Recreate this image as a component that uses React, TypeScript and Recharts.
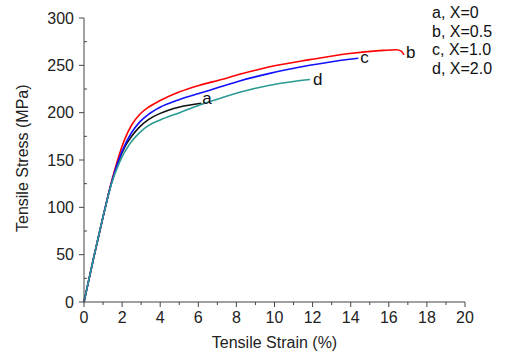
import React from "react";
import { LineChart, Line, XAxis, YAxis } from "recharts";

// strain (%) / stress (MPa)
const curveA = [
  { x: 0, y: 0 }, { x: 0.5, y: 46 }, { x: 1, y: 90 }, { x: 1.43, y: 125 }, { x: 1.8, y: 148 },
  { x: 2.2, y: 166 }, { x: 2.5, y: 175 }, { x: 2.92, y: 185 }, { x: 3.4, y: 193 }, { x: 3.97, y: 199 },
  { x: 5.02, y: 206 }, { x: 6.16, y: 210 },
];
const curveB = [
  { x: 0, y: 0 }, { x: 0.5, y: 46 }, { x: 1, y: 90 }, { x: 1.43, y: 126 }, { x: 1.75, y: 149 },
  { x: 2.14, y: 172 }, { x: 2.5, y: 187 }, { x: 2.92, y: 198 }, { x: 3.4, y: 206 }, { x: 3.97, y: 212.5 },
  { x: 5.02, y: 222 }, { x: 6.07, y: 229 }, { x: 7.12, y: 234.5 }, { x: 8.17, y: 240.5 },
  { x: 9.75, y: 248.5 }, { x: 11.85, y: 256 }, { x: 13.95, y: 262.5 }, { x: 15.5, y: 265.5 },
  { x: 16.4, y: 266.5 }, { x: 16.65, y: 265 }, { x: 16.8, y: 261 },
];
const curveC = [
  { x: 0, y: 0 }, { x: 0.5, y: 46 }, { x: 1, y: 90 }, { x: 1.43, y: 125 }, { x: 1.8, y: 149 },
  { x: 2.2, y: 168 }, { x: 2.5, y: 179 }, { x: 2.92, y: 190 }, { x: 3.4, y: 198.5 }, { x: 3.97, y: 205.5 },
  { x: 5.02, y: 214 }, { x: 6.07, y: 220.5 }, { x: 7.12, y: 227 }, { x: 8.17, y: 233.5 },
  { x: 9.75, y: 241.5 }, { x: 11.85, y: 250 }, { x: 13.95, y: 256.5 }, { x: 14.4, y: 257.5 },
];
const curveD = [
  { x: 0, y: 0 }, { x: 0.5, y: 46 }, { x: 1, y: 90 }, { x: 1.43, y: 124 }, { x: 1.85, y: 147 },
  { x: 2.4, y: 167 }, { x: 2.92, y: 179 }, { x: 3.4, y: 186.5 }, { x: 3.97, y: 192 }, { x: 5.02, y: 200 },
  { x: 6.07, y: 208 }, { x: 7.12, y: 215 }, { x: 8.17, y: 221.5 }, { x: 9.75, y: 229 },
  { x: 11.0, y: 233 }, { x: 11.86, y: 235 },
];

const seriesNames = ["a", "b", "c", "d"];
const legendLines = ["a, X=0", "b, X=0.5", "c, X=1.0", "d, X=2.0"];
const xTicks = Array.from({ length: 21 }, (_, i) => i);
const yTicks = [0, 25, 50, 75, 100, 125, 150, 175, 200, 225, 250, 275, 300];

const font = "Arial, 'Liberation Sans', sans-serif";
const axisColor = "#444";
const textColor = "#222";

const XTick = (props: any) => {
  const { x, y, payload } = props;
  const major = payload.value % 2 === 0;
  return (
    <g>
      <line x1={x} x2={x} y1={y} y2={y + (major ? 5 : 3)} stroke={axisColor} strokeWidth={1} />
      {major && (
        <text x={x} y={y + 21} textAnchor="middle" fontSize={16} fill={textColor} fontFamily={font}>
          {payload.value}
        </text>
      )}
    </g>
  );
};

const YTick = (props: any) => {
  const { x, y, payload } = props;
  const major = payload.value % 50 === 0;
  return (
    <g>
      {major ? (
        <line x1={x} x2={x - 5} y1={y} y2={y} stroke={axisColor} strokeWidth={1} />
      ) : (
        <line x1={x} x2={x + 3} y1={y} y2={y} stroke={axisColor} strokeWidth={1} />
      )}
      {major && (
        <text x={x - 10} y={y + 5.5} textAnchor="end" fontSize={16} fill={textColor} fontFamily={font}>
          {payload.value}
        </text>
      )}
    </g>
  );
};

const endLabel = (name: string, last: number, dx: number, dy: number) => (props: any) => {
  if (props.index !== last) return null;
  return (
    <text key={name} x={props.x + dx} y={props.y + dy} fontSize={17} fill="#111" fontFamily={font}>
      {name}
    </text>
  );
};

const series = [
  { data: curveA, color: "#111111", dx: 1, dy: 1 },
  { data: curveB, color: "#ff0000", dx: 2, dy: 3 },
  { data: curveC, color: "#1010ff", dx: 2, dy: 5 },
  { data: curveD, color: "#2a9a94", dx: 3, dy: 5 },
];

export default function App() {
  return (
    <div style={{ position: "absolute", left: 0, top: 0, width: 507, height: 357, background: "#fff" }}>
      <LineChart width={507} height={357} margin={{ top: 18, right: 42, bottom: 5, left: 24 }}>
        <XAxis
          type="number"
          dataKey="x"
          domain={[0, 20]}
          ticks={xTicks}
          interval={0}
          tick={<XTick />}
          tickLine={false}
          tickSize={0}
          tickMargin={0}
          height={50}
          stroke={axisColor}
          allowDuplicatedCategory={false}
          label={{ value: "Tensile Strain (%)", position: "insideBottom", offset: 4, fontSize: 16, fill: textColor, fontFamily: font }}
        />
        <YAxis
          type="number"
          dataKey="y"
          domain={[0, 300]}
          ticks={yTicks}
          interval={0}
          tick={<YTick />}
          tickLine={false}
          tickSize={0}
          tickMargin={0}
          width={60}
          stroke={axisColor}
          label={{ value: "Tensile Stress (MPa)", angle: -90, position: "insideLeft", offset: -2, dy: 72, fontSize: 16, fill: textColor, fontFamily: font }}
        />
        {series.map((s, i) => (
          <Line
            key={seriesNames[i]}
            data={s.data}
            dataKey="y"
            type="monotone"
            stroke={s.color}
            strokeWidth={1.6}
            dot={false}
            isAnimationActive={false}
            label={endLabel(seriesNames[i], s.data.length - 1, s.dx, s.dy)}
          />
        ))}
      </LineChart>
      <div style={{ position: "absolute", left: 432, top: 4, fontFamily: font, fontSize: 16, lineHeight: "18.5px", color: "#111" }}>
        {legendLines.map((t) => (
          <div key={t}>{t}</div>
        ))}
      </div>
    </div>
  );
}
